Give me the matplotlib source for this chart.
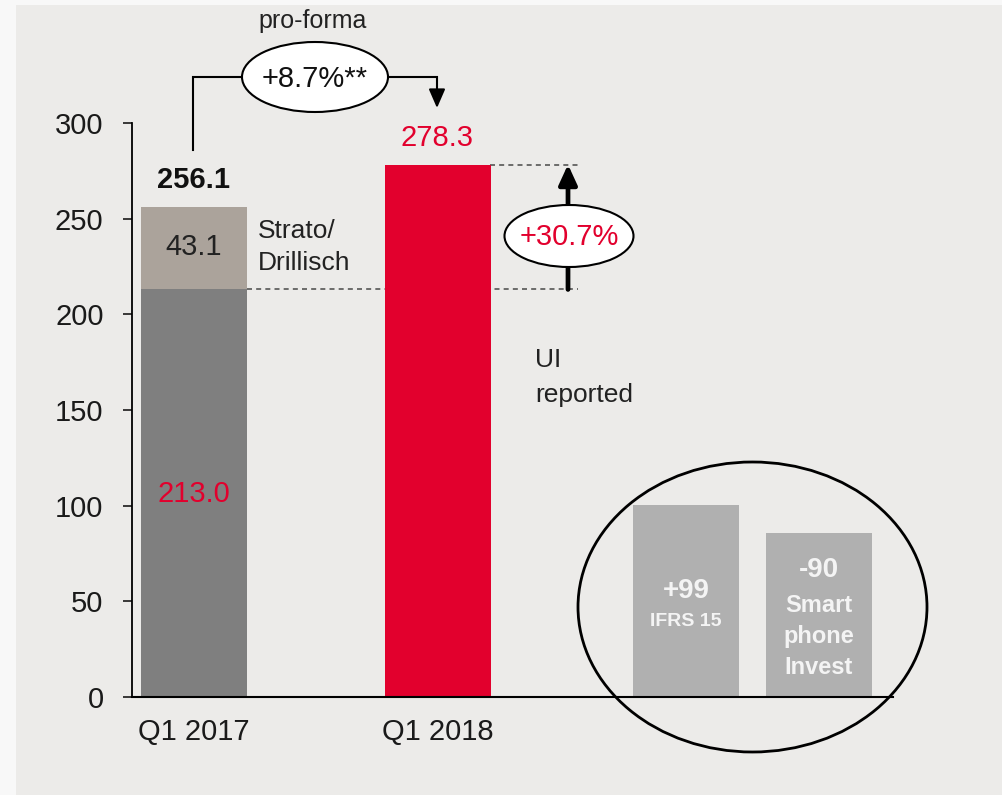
import matplotlib
matplotlib.use('Agg')
import matplotlib.pyplot as plt
from matplotlib import font_manager
from matplotlib.patches import Ellipse, Rectangle

# data
quarters = ['Q1 2017', 'Q1 2018']
ui_2017 = 213.0
strato_2017 = 43.1
total_2017 = 256.1
ui_2018 = 278.3
effect_heights = [100.4, 85.7]
effect_values = ['+99', '-90']
effect_names = ['IFRS 15', 'Smart\nphone\nInvest']
proforma_growth = '+8.7%**'
reported_growth = '+30.7%'
yticks = [0, 50, 100, 150, 200, 250, 300]

names = {f.name for f in font_manager.fontManager.ttflist}
narrow = 'Liberation Sans Narrow' if 'Liberation Sans Narrow' in names else 'Liberation Sans'
plt.rcParams['font.family'] = [narrow, 'DejaVu Sans']

DARK = '#7f7f7f'
TAUPE = '#aba39b'
RED = '#e2002d'
LIGHT = '#b0b0b0'
BG = '#ecebe9'
FS = 21

fig = plt.figure(figsize=(10.02, 7.95), dpi=100, facecolor='#f8f8f8')
fig.patches.append(Rectangle((16 / 1002, 0), 1, 1 - 5 / 795, transform=fig.transFigure,
                             facecolor=BG, edgecolor='none', zorder=-10))

# x axis in pixel-like units, y in data units
ax = fig.add_axes([132 / 1002, (795 - 697) / 795, (893 - 132) / 1002, (697 - 123) / 795])
ax.set_facecolor('none')
ax.set_xlim(132, 893)
ax.set_ylim(0, 300)
PX = 574 / 300  # pixels per y unit


def yd(p):
    return (697 - p) / PX


xpos = [194, 437.5]
epos = [686, 819]
bw = 106

ax.bar(xpos[0], ui_2017, width=bw, color=DARK, zorder=2)
ax.bar(xpos[0], strato_2017, bottom=ui_2017, width=bw, color=TAUPE, zorder=2)
ax.bar(xpos[1], ui_2018, width=bw, color=RED, zorder=2)
ax.bar(epos, effect_heights, width=bw, color=LIGHT, zorder=2)

for s in ['top', 'right']:
    ax.spines[s].set_visible(False)
ax.spines['left'].set_linewidth(1.3)
ax.spines['bottom'].set_linewidth(1.5)
ax.spines['bottom'].set_zorder(5)
ax.set_yticks(yticks)
ax.tick_params(axis='y', length=6.5, width=1.2, labelsize=FS, pad=14, colors='#1a1a1a')
ax.set_xticks(xpos)
ax.set_xticklabels(quarters)
ax.tick_params(axis='x', length=0, labelsize=FS, pad=15, colors='#1a1a1a')

# value labels
ax.text(xpos[0], yd(180), f'{total_2017:.1f}', ha='center', va='center', fontsize=FS,
        fontweight='bold', color='#111111')
ax.text(xpos[0], yd(247), f'{strato_2017:.1f}', ha='center', va='center', fontsize=FS, color='#222222')
ax.text(xpos[0], yd(494), f'{ui_2017:.1f}', ha='center', va='center', fontsize=FS, color=RED)
ax.text(xpos[1], yd(138), f'{ui_2018:.1f}', ha='center', va='center', fontsize=FS, color=RED)
ax.text(258, yd(231), 'Strato/', ha='left', va='center', fontsize=19, color='#222222')
ax.text(258, yd(263), 'Drillisch', ha='left', va='center', fontsize=19, color='#222222')
ax.text(535, yd(360), 'UI', ha='left', va='center', fontsize=19, color='#222222')
ax.text(535, yd(395), 'reported', ha='left', va='center', fontsize=19, color='#222222')

# dashed reference lines
ax.plot([247, 578], [ui_2017, ui_2017], ls=(0, (3, 2.5)), color='#555555', lw=1.2, zorder=1, clip_on=False)
ax.plot([490, 578], [ui_2018, ui_2018], ls=(0, (3, 2.5)), color='#555555', lw=1.2, zorder=1, clip_on=False)

# reported growth arrow
ax.annotate('', xy=(568, ui_2018), xytext=(568, ui_2017),
            arrowprops=dict(arrowstyle='-|>,head_length=1.2,head_width=0.55', lw=3.4,
                            color='black', shrinkA=0, shrinkB=0, mutation_scale=10),
            annotation_clip=False, zorder=3)
ax.add_patch(Ellipse((569, yd(236)), 129, 62 / PX, facecolor='white', edgecolor='black',
                     lw=1.5, zorder=4, clip_on=False))
ax.text(569, yd(237), reported_growth, ha='center', va='center', fontsize=FS, color=RED, zorder=5)

# pro-forma bracket
top = yd(77)
ax.plot([193, 193, 437, 437], [yd(150), top, top, yd(95)], color='black', lw=1.5,
        zorder=3, clip_on=False, solid_joinstyle='miter')
ax.annotate('', xy=(437, yd(108)), xytext=(437, yd(94)),
            arrowprops=dict(arrowstyle='-|>,head_length=1.15,head_width=0.5', lw=1.5,
                            color='black', shrinkA=0, shrinkB=0, mutation_scale=10),
            annotation_clip=False, zorder=3)
ax.add_patch(Ellipse((315, top), 146, 70 / PX, facecolor='white', edgecolor='black',
                     lw=1.5, zorder=4, clip_on=False))
ax.text(315, yd(79), proforma_growth, ha='center', va='center', fontsize=FS, color='#111111', zorder=5)
ax.text(313, yd(21), 'pro-forma', ha='center', va='center', fontsize=18, color='#222222')

# effects circle
ax.add_patch(Ellipse((752.5, yd(607)), 349, 290 / PX, facecolor='none', edgecolor='black',
                     lw=2, zorder=6, clip_on=False))
ax.text(epos[0], yd(591), effect_values[0], ha='center', va='center', fontsize=20,
        fontweight='bold', color='#f4f4f4', zorder=3)
ax.text(epos[0], yd(622), effect_names[0], ha='center', va='center', fontsize=14,
        fontweight='bold', color='#f4f4f4', zorder=3)
ax.text(epos[1], yd(570), effect_values[1], ha='center', va='center', fontsize=20,
        fontweight='bold', color='#f4f4f4', zorder=3)
for line, p in zip(effect_names[1].split('\n'), [605, 637, 668]):
    ax.text(epos[1], yd(p), line, ha='center', va='center', fontsize=17,
            fontweight='bold', color='#f4f4f4', zorder=3)

fig.savefig('out.png', dpi=100, facecolor=fig.get_facecolor())
